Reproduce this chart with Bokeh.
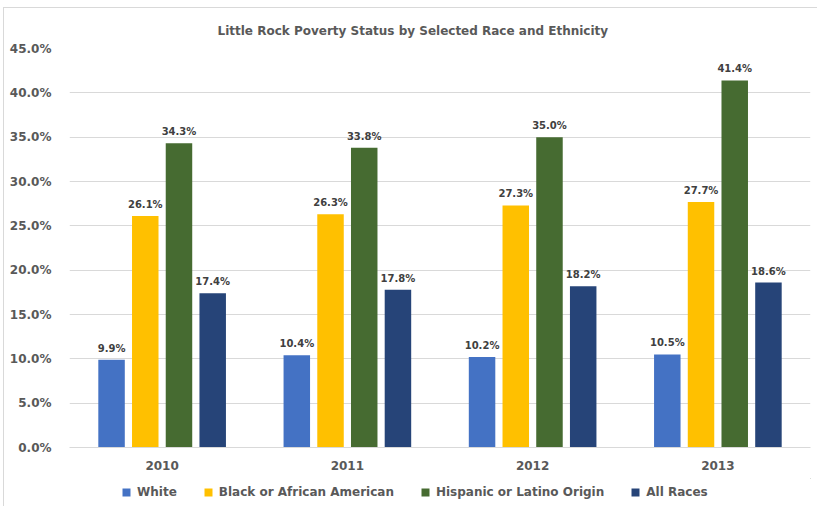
from bokeh.plotting import figure
from bokeh.layouts import column
from bokeh.models import (FactorRange, Range1d, Legend, LegendItem,
                          PrintfTickFormatter, ColumnDataSource)
from bokeh.transform import dodge
from bokeh.core.properties import value
from bokeh.embed import file_html
from bokeh.resources import INLINE

years = ["2010", "2011", "2012", "2013"]
white = [9.9, 10.4, 10.2, 10.5]
black = [26.1, 26.3, 27.3, 27.7]
hispanic = [34.3, 33.8, 35.0, 41.4]
all_races = [17.4, 17.8, 18.2, 18.6]
series_names = ["White", "Black or African American", "Hispanic or Latino Origin", "All Races"]
series_values = [white, black, hispanic, all_races]
y_ticks = [0, 5, 10, 15, 20, 25, 30, 35, 40, 45]
colors = ["#4472C4", "#FFC000", "#466B31", "#264478"]
offsets = [-0.273, -0.091, 0.091, 0.273]
title_text = "Little Rock Poverty Status by Selected Race and Ethnicity"

FONT = "DejaVu Sans"
TXT = "#595959"

p = figure(width=813, height=470, x_range=FactorRange(*years, range_padding=0),
           y_range=Range1d(0, 45), output_backend="svg", toolbar_location=None,
           min_border_left=65, min_border_right=7, min_border_top=40, min_border_bottom=31)
p.outline_line_color = None
p.background_fill_color = "white"
p.border_fill_color = "white"

p.title.text = title_text
p.title.align = "left"
p.title.offset = 148
p.title.standoff = 22
p.title.text_font = FONT
p.title.text_font_style = "bold"
p.title.text_font_size = "12px"
p.title.text_color = TXT

for name, vals, col, off in zip(series_names, series_values, colors, offsets):
    src = ColumnDataSource(dict(year=years, v=vals, lab=[f"{x:.1f}%" for x in vals]))
    p.vbar(x=dodge("year", off, range=p.x_range), top="v", width=0.143, source=src,
           fill_color=col, line_color=None)
    p.text(x=dodge("year", off, range=p.x_range), y="v", text="lab", source=src,
           text_align="center", text_baseline="bottom", y_offset=-6,
           text_font_size="10px", text_font_style="bold", text_color="#404040",
           text_font=value(FONT))

p.xgrid.grid_line_color = None
p.ygrid.grid_line_color = "#d9d9d9"
p.ygrid.grid_line_width = 1
p.yaxis.ticker = y_ticks
p.yaxis.formatter = PrintfTickFormatter(format="%.1f%%")
p.yaxis.axis_line_color = None
p.yaxis.major_tick_line_color = None
p.yaxis.minor_tick_line_color = None
p.yaxis.major_label_standoff = 12
p.xaxis.axis_line_color = "#d9d9d9"
p.xaxis.major_tick_line_color = None
p.xaxis.minor_tick_line_color = None
p.xaxis.major_label_standoff = 7
for ax in (p.xaxis, p.yaxis):
    ax.major_label_text_font = FONT
    ax.major_label_text_font_style = "bold"
    ax.major_label_text_font_size = "12px"
    ax.major_label_text_color = TXT

# legend strip
lg = figure(width=813, height=28, x_range=Range1d(0, 1), y_range=Range1d(0, 1),
            output_backend="svg", toolbar_location=None, x_axis_type=None, y_axis_type=None,
            min_border=0)
lg.outline_line_color = None
lg.xgrid.grid_line_color = None
lg.ygrid.grid_line_color = None
items = []
for name, col in zip(series_names, colors):
    r = lg.vbar(x=[5], top=[5], bottom=[4], width=0.1, fill_color=col, line_color=None)
    items.append(LegendItem(label=name, renderers=[r]))
legend = Legend(items=items, location=(52, 7), orientation="horizontal",
                glyph_width=10, glyph_height=10, label_standoff=6, spacing=26,
                padding=0, margin=0, border_line_color=None, background_fill_alpha=0,
                label_text_font=FONT, label_text_font_style="bold",
                label_text_font_size="12px", label_text_color=TXT)
lg.add_layout(legend, "center")

layout = column(p, lg, spacing=0)
layout.margin = (7, 0, 0, 3)
layout.styles = {"border-top": "1px solid #d9d9d9", "border-left": "1px solid #d9d9d9"}
open("out.html", "w").write(file_html(layout, INLINE))
